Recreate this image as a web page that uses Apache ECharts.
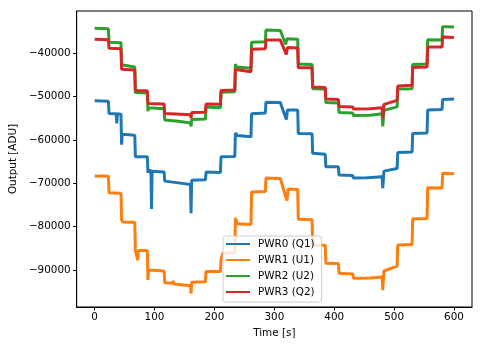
<!DOCTYPE html>
<html>
<head>
<meta charset="utf-8">
<script src="https://cdn.jsdelivr.net/npm/echarts@6/dist/echarts.min.js"></script>
<style>
  html, body { margin: 0; padding: 0; background: #fff; }
  #chart { width: 483px; height: 347px; }
</style>
</head>
<body>
<div id="chart"></div>
<script>
// Detector power outputs over one scan, [time s, output ADU]
const seriesNames = ['PWR0 (Q1)', 'PWR1 (U1)', 'PWR2 (U2)', 'PWR3 (Q2)'];
const seriesColors = ['#1f77b4', '#ff7f0e', '#2ca02c', '#d62728'];

const pwr0 = [
  [0,-51000],[23,-51100],[24,-53900],[36,-54000],[37,-56200],[38,-54000],[44,-54100],
  [45,-61100],[46,-58700],[67,-58900],[68,-63900],[70,-64300],[88,-63900],
  [89,-67600],[90,-67000],[94,-67100],[95,-75900],[96,-67200],[116,-67400],
  [117,-69500],[140,-69900],[160,-70300],[161,-76900],[162,-69300],[185,-69200],
  [186,-67400],[210,-67500],[211,-63900],[234,-63800],[235,-58400],[238,-59000],[261,-59300],
  [262,-54000],[285,-53800],[286,-51300],[310,-51400],[320,-55300],[322,-53100],[339,-53100],
  [340,-58500],[363,-58600],[364,-63100],[385,-63300],[386,-66200],[407,-66200],
  [408,-68100],[431,-68200],[432,-68800],[455,-68700],[480,-68500],[481,-71100],[483,-67200],
  [505,-66600],[506,-62900],[530,-62800],[531,-58500],[555,-58400],[556,-53100],[580,-53000],
  [581,-50700],[600,-50600]
];

const pwr1 = [
  [0,-68300],[23,-68400],[24,-72200],[44,-72300],[45,-78400],[47,-78900],[67,-79000],
  [68,-85500],[71,-85600],[72,-87700],[73,-85500],[88,-85500],
  [89,-92300],[90,-90000],[116,-90200],[117,-92900],[130,-93000],[131,-92500],[133,-93200],
  [160,-93600],[161,-95400],[162,-92800],[185,-92700],[186,-90300],[210,-90300],
  [211,-87600],[214,-86100],[234,-86000],[235,-78000],[238,-79300],[261,-79500],
  [262,-72000],[285,-71900],[286,-68800],[310,-68900],[321,-74000],[323,-71300],[339,-71400],
  [340,-78300],[363,-78400],[364,-84200],[385,-84300],[386,-88400],[407,-88500],
  [408,-90700],[431,-90900],[432,-91900],[460,-91800],[480,-91600],[481,-94600],[483,-90200],
  [505,-89100],[506,-84200],[530,-84100],[531,-78200],[555,-78100],[556,-71000],[580,-71100],
  [581,-67700],[600,-67800]
];

const pwr2 = [
  [0,-34300],[23,-34400],[24,-37500],[44,-37600],[45,-42700],[47,-43000],[67,-43200],
  [68,-49100],[88,-49200],[89,-53400],[90,-52600],[116,-52800],
  [117,-55400],[140,-55700],[160,-56100],[161,-56900],[162,-55300],[185,-55200],
  [186,-52400],[210,-52600],[211,-49000],[234,-48900],[235,-42500],[237,-43200],[261,-43500],
  [262,-37500],[285,-37400],[286,-34700],[310,-34800],[319,-38000],[321,-36700],[339,-36800],
  [340,-42500],[363,-42600],[364,-48200],[385,-48300],[386,-51400],[407,-51500],
  [408,-53700],[431,-53800],[432,-54400],[460,-54300],[480,-54000],[481,-56900],[483,-53200],
  [505,-52400],[506,-48300],[530,-48200],[531,-42600],[555,-42500],[556,-36900],[580,-37000],
  [581,-33900],[600,-34000]
];

const pwr3 = [
  [0,-36800],[23,-36900],[24,-38900],[44,-39000],[45,-43700],[67,-43900],
  [68,-48600],[88,-48700],[89,-51600],[116,-51700],
  [117,-53900],[160,-54200],[161,-55000],[162,-53700],[185,-53600],
  [186,-51700],[210,-51800],[211,-48600],[234,-48500],[235,-43800],[261,-44300],
  [262,-39100],[285,-39000],[286,-37000],[310,-37000],[320,-40300],[322,-38700],[339,-38800],
  [340,-43400],[363,-43400],[364,-47800],[385,-47900],[386,-50600],[407,-50700],
  [408,-52300],[431,-52400],[432,-52900],[460,-52800],[480,-52600],[481,-55000],[483,-51800],
  [505,-50900],[506,-47600],[530,-47400],[531,-43300],[555,-43200],[556,-38600],[580,-38600],
  [581,-36300],[600,-36400]
];

const xTicks = [0, 100, 200, 300, 400, 500, 600];
const yTicks = [-90000, -80000, -70000, -60000, -50000, -40000];

const FONT = 'DejaVu Sans';
const FS = 10.4;
const minus = v => String(v).replace('-', '\u2212');

const chart = echarts.init(document.getElementById('chart'), null, { renderer: 'canvas' });

const seriesData = [pwr0, pwr1, pwr2, pwr3];

chart.setOption({
  animation: false,
  backgroundColor: '#ffffff',
  grid: {
    left: 75, right: 11, top: 11, bottom: 40,
    show: true, borderColor: '#000', borderWidth: 1, backgroundColor: 'transparent'
  },
  legend: {
    data: seriesNames,
    orient: 'vertical',
    left: 223, top: 236,
    icon: 'rect',
    itemWidth: 24, itemHeight: 2,
    itemGap: 4,
    padding: [2, 7, 4, 3],
    backgroundColor: 'rgba(255,255,255,0.8)',
    borderColor: '#cccccc', borderWidth: 1, borderRadius: 3,
    textStyle: { fontFamily: FONT, fontSize: FS, color: '#000', lineHeight: 12, padding: [0, 0, 0, 3] }
  },
  xAxis: {
    type: 'value', min: -30, max: 630,
    name: 'Time [s]', nameLocation: 'middle', nameGap: 21,
    nameTextStyle: { fontFamily: FONT, fontSize: FS, color: '#000' },
    axisLine: { show: true, onZero: false, lineStyle: { color: '#000', width: 1 } },
    axisTick: { show: true, length: 3.5, lineStyle: { color: '#000' }, customValues: xTicks },
    axisLabel: { fontFamily: FONT, fontSize: FS, color: '#000', margin: 5, customValues: xTicks, formatter: minus },
    splitLine: { show: false }
  },
  yAxis: {
    type: 'value', min: -98500, max: -30300,
    name: 'Output [ADU]', nameLocation: 'middle', nameGap: 58,
    nameTextStyle: { fontFamily: FONT, fontSize: FS, color: '#000' },
    axisLine: { show: true, onZero: false, lineStyle: { color: '#000', width: 1 } },
    axisTick: { show: true, length: 3.5, lineStyle: { color: '#000' }, customValues: yTicks },
    axisLabel: { fontFamily: FONT, fontSize: FS, color: '#000', margin: 6, customValues: yTicks, formatter: minus },
    splitLine: { show: false }
  },
  series: seriesData.map((d, i) => ({
    name: seriesNames[i],
    type: 'line',
    data: d,
    showSymbol: false,
    symbol: 'none',
    color: seriesColors[i],
    lineStyle: { width: 3, color: seriesColors[i] },
    emphasis: { disabled: true }
  }))
});
</script>
</body>
</html>
